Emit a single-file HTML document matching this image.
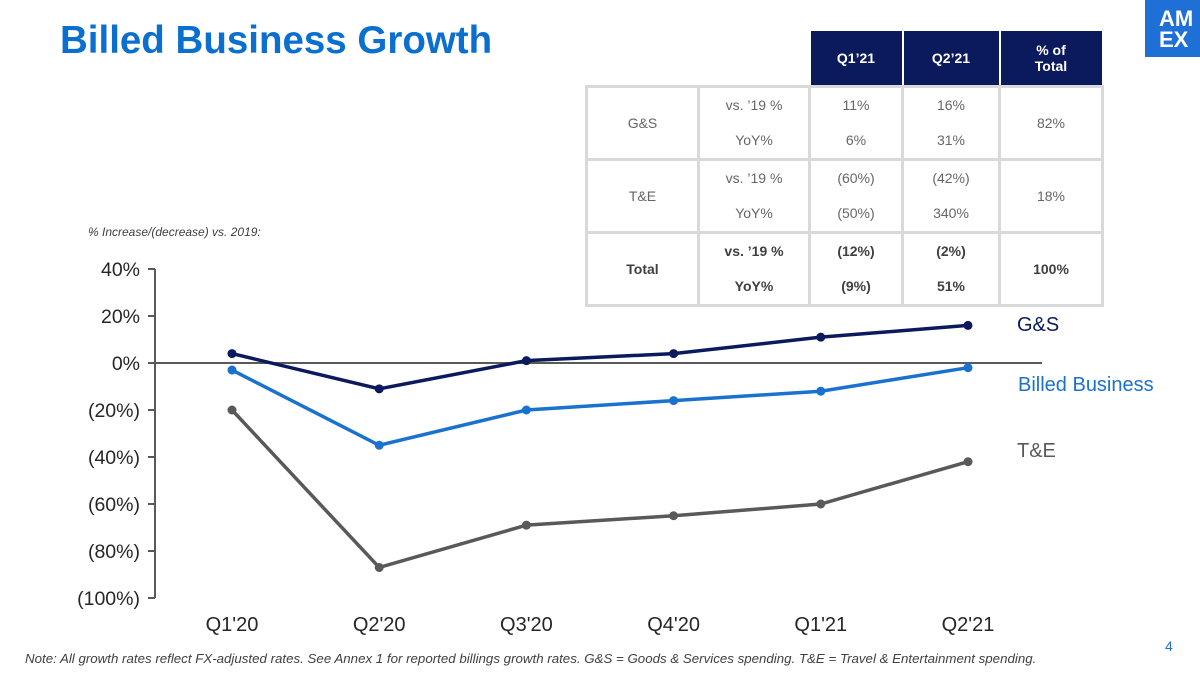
<!DOCTYPE html>
<html><head><meta charset="utf-8"><style>
body{margin:0;width:1200px;height:675px;background:#fff;position:relative;overflow:hidden;font-family:"Liberation Sans",Arial,sans-serif}
.abs{position:absolute}
table{border-collapse:collapse;position:absolute;left:585px;top:31px;font-size:14px;color:#666;table-layout:fixed;width:516px}
td{border:3px solid #d9d9d9;text-align:center;padding:0;box-sizing:border-box}
td.h{background:#0a1a5c;color:#fff;font-weight:bold;border:2px solid #fff;border-top:none}
td.e{border:none}
.two div{height:35px;line-height:35px}
.b{font-weight:bold;color:#404040}
</style></head><body>
<div class="abs" style="left:60px;top:19px;font-size:38.5px;font-weight:bold;color:#0b6fd0">Billed Business Growth</div>
<div class="abs" style="left:1145px;top:0;width:55px;height:57px;background:#1e6fd6;color:#fff;font-weight:900;font-size:22px;line-height:21px;padding:8px 0 0 14px;box-sizing:border-box;overflow:hidden">AM<br>EX</div>
<table>
<colgroup><col style="width:112px"><col style="width:111px"><col style="width:93px"><col style="width:97px"><col style="width:103px"></colgroup>
<tr style="height:55px"><td class="e"></td><td class="e"></td><td class="h">Q1’21</td><td class="h">Q2’21</td><td class="h">% of<br>Total</td></tr>
<tr style="height:70px"><td>G&amp;S</td><td class="two"><div>vs. ’19 %</div><div>YoY%</div></td><td class="two"><div>11%</div><div>6%</div></td><td class="two"><div>16%</div><div>31%</div></td><td>82%</td></tr>
<tr style="height:70px"><td>T&amp;E</td><td class="two"><div>vs. ’19 %</div><div>YoY%</div></td><td class="two"><div>(60%)</div><div>(50%)</div></td><td class="two"><div>(42%)</div><div>340%</div></td><td>18%</td></tr>
<tr style="height:70px" class="b"><td>Total</td><td class="two"><div>vs. ’19 %</div><div>YoY%</div></td><td class="two"><div>(12%)</div><div>(9%)</div></td><td class="two"><div>(2%)</div><div>51%</div></td><td>100%</td></tr>
</table>
<div class="abs" style="left:88px;top:225px;font-size:12px;font-style:italic;color:#404040">% Increase/(decrease) vs. 2019:</div>
<svg class="abs" style="left:0;top:0" width="1200" height="675" id="chart"></svg>
<div class="abs" style="left:25px;top:651px;font-size:13.3px;font-style:italic;color:#404040;white-space:nowrap">Note: All growth rates reflect FX-adjusted rates. See Annex 1 for reported billings growth rates. G&amp;S = Goods &amp; Services spending. T&amp;E = Travel &amp; Entertainment spending.</div>
<div class="abs" style="left:1165px;top:638px;font-size:14px;color:#1e6fd6">4</div>
<script>
const categories=["Q1'20","Q2'20","Q3'20","Q4'20","Q1'21","Q2'21"];
const gsValues=[4,-11,1,4,11,16];
const billedValues=[-3,-35,-20,-16,-12,-2];
const teValues=[-20,-87,-69,-65,-60,-42];
const yTicks=[40,20,0,-20,-40,-60,-80,-100];
const yTickLabels=["40%","20%","0%","(20%)","(40%)","(60%)","(80%)","(100%)"];
const NS="http://www.w3.org/2000/svg";
const svg=document.getElementById('chart');
const y=v=>363-(v/20)*47;
const x=i=>232+i*147.2;
function mk(t,a){const e=document.createElementNS(NS,t);for(const k in a)e.setAttribute(k,a[k]);svg.appendChild(e);return e;}
let ax=mk('line',{x1:155,x2:155,y1:y(40),y2:y(-100),stroke:'#595959','stroke-width':2});


yTicks.forEach((v,i)=>{
  const tk=mk('line',{x1:148,x2:155,y1:y(v),y2:y(v),stroke:'#595959','stroke-width':2});
  
  
  const t=mk('text',{x:140,y:y(v)+7,'text-anchor':'end','font-size':19.5,fill:'#262626','font-family':'Liberation Sans, sans-serif'});
  t.textContent=yTickLabels[i];
  
  
});
let zl=mk('line',{x1:155,x2:1042,y1:y(0),y2:y(0),stroke:'#595959','stroke-width':2});


categories.forEach((c,i)=>{
  const t=mk('text',{x:x(i),y:631,'text-anchor':'middle','font-size':20,fill:'#262626','font-family':'Liberation Sans, sans-serif'});
  t.textContent=c;
  
  
});
const series=[[teValues,'#595959','te-line','T&E',1017,457],[billedValues,'#1a72cf','billed-business-line','Billed Business',1018,391],[gsValues,'#0a1a5c','gs-line','G&S',1017,331]];
series.forEach(([vals,col,name,lab,lx,ly])=>{
  const pl=mk('polyline',{points:vals.map((v,i)=>x(i)+','+y(v)).join(' '),fill:'none',stroke:col,'stroke-width':3.5});
  
  
  vals.forEach((v,i)=>{
    const c=mk('circle',{cx:x(i),cy:y(v),r:4.5,fill:col});
    
    
  });
  const t=mk('text',{x:lx,y:ly,'font-size':20,fill:col,'font-family':'Liberation Sans, sans-serif'});
  t.textContent=lab;
  
  
});
</script>
</body></html>
